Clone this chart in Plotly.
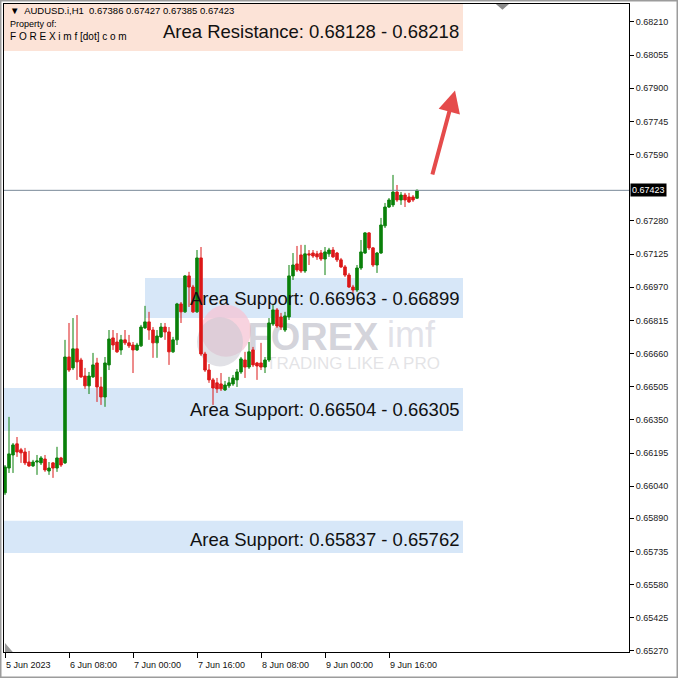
import plotly.graph_objects as go
import pandas as pd

# ---------------- data ----------------
symbol = "AUDUSD.i,H1"
times = pd.date_range("2023-06-05 16:00", periods=104, freq="h")

open_ = [0.66009, 0.66125, 0.66186, 0.66238, 0.66210, 0.66200, 0.66153, 0.66135, 0.66153, 0.66149,
         0.66167, 0.66111, 0.66149, 0.66125, 0.66172, 0.66149, 0.66644, 0.66593, 0.66682, 0.66630,
         0.66555, 0.66509, 0.66551, 0.66616, 0.66504, 0.66457, 0.66607, 0.66733, 0.66714, 0.66677,
         0.66724, 0.66710, 0.66700, 0.66677, 0.66696, 0.66780, 0.66808, 0.66770, 0.66710, 0.66738,
         0.66784, 0.66761, 0.66668, 0.66724, 0.66892, 0.66855, 0.67023, 0.66971, 0.66855, 0.67107,
         0.66658, 0.66583, 0.66537, 0.66523, 0.66518, 0.66490, 0.66509, 0.66518, 0.66537, 0.66574,
         0.66630, 0.66597, 0.66677, 0.66616, 0.66616, 0.66597, 0.66630, 0.66798, 0.66864, 0.66831,
         0.66770, 0.66831, 0.67023, 0.67079, 0.67121, 0.67046, 0.67126, 0.67130, 0.67126, 0.67130,
         0.67102, 0.67126, 0.67144, 0.67130, 0.67098, 0.67065, 0.67027, 0.66971, 0.66957, 0.67060,
         0.67130, 0.67224, 0.67154, 0.67074, 0.67130, 0.67257, 0.67345, 0.67355, 0.67415, 0.67378,
         0.67401, 0.67392, 0.67392, 0.67386]
high = [0.66139, 0.66364, 0.66242, 0.66270, 0.66219, 0.66219, 0.66205, 0.66163, 0.66186, 0.66181,
        0.66186, 0.66153, 0.66153, 0.66224, 0.66177, 0.66724, 0.66803, 0.66826, 0.66840, 0.66640,
        0.66593, 0.66574, 0.66663, 0.66640, 0.66551, 0.66644, 0.66770, 0.66770, 0.66756, 0.66747,
        0.66770, 0.66747, 0.66714, 0.66710, 0.66794, 0.66883, 0.66855, 0.66784, 0.66770, 0.66803,
        0.66803, 0.66784, 0.66738, 0.66897, 0.66901, 0.67027, 0.67042, 0.66981, 0.67144, 0.67158,
        0.66668, 0.66611, 0.66546, 0.66546, 0.66569, 0.66532, 0.66551, 0.66560, 0.66588, 0.66644,
        0.66668, 0.66714, 0.66691, 0.66621, 0.66710, 0.66644, 0.66826, 0.66887, 0.66873, 0.66850,
        0.66855, 0.67074, 0.67130, 0.67163, 0.67168, 0.67168, 0.67144, 0.67144, 0.67140, 0.67144,
        0.67158, 0.67154, 0.67158, 0.67135, 0.67107, 0.67074, 0.67037, 0.66981, 0.67074, 0.67191,
        0.67228, 0.67228, 0.67158, 0.67135, 0.67294, 0.67364, 0.67387, 0.67495, 0.67448, 0.67415,
        0.67411, 0.67411, 0.67401, 0.67427]
low = [0.65999, 0.66102, 0.66102, 0.66177, 0.66149, 0.66139, 0.66130, 0.66130, 0.66093, 0.66139,
       0.66107, 0.66093, 0.66079, 0.66107, 0.66130, 0.66144, 0.66574, 0.66583, 0.66537, 0.66546,
       0.66495, 0.66471, 0.66546, 0.66434, 0.66420, 0.66411, 0.66583, 0.66677, 0.66663, 0.66654,
       0.66700, 0.66686, 0.66569, 0.66672, 0.66691, 0.66775, 0.66724, 0.66640, 0.66640, 0.66733,
       0.66724, 0.66607, 0.66663, 0.66700, 0.66803, 0.66850, 0.66878, 0.66850, 0.66850, 0.66649,
       0.66574, 0.66523, 0.66420, 0.66476, 0.66485, 0.66485, 0.66499, 0.66509, 0.66504, 0.66565,
       0.66546, 0.66588, 0.66597, 0.66537, 0.66583, 0.66569, 0.66621, 0.66789, 0.66780, 0.66770,
       0.66761, 0.66817, 0.67004, 0.67042, 0.67037, 0.67037, 0.67074, 0.67107, 0.67098, 0.67093,
       0.67027, 0.67112, 0.67107, 0.67088, 0.67060, 0.67018, 0.66967, 0.66943, 0.66948, 0.67051,
       0.67126, 0.67144, 0.67065, 0.67037, 0.67126, 0.67247, 0.67341, 0.67345, 0.67369, 0.67355,
       0.67345, 0.67364, 0.67369, 0.67385]
close = [0.66130, 0.66191, 0.66233, 0.66200, 0.66196, 0.66149, 0.66135, 0.66153, 0.66158, 0.66172,
         0.66116, 0.66125, 0.66125, 0.66172, 0.66139, 0.66644, 0.66583, 0.66682, 0.66621, 0.66551,
         0.66509, 0.66555, 0.66607, 0.66504, 0.66457, 0.66616, 0.66728, 0.66700, 0.66668, 0.66724,
         0.66710, 0.66696, 0.66677, 0.66700, 0.66784, 0.66808, 0.66770, 0.66710, 0.66742, 0.66784,
         0.66761, 0.66668, 0.66724, 0.66892, 0.66855, 0.67023, 0.66971, 0.66855, 0.67107, 0.66658,
         0.66583, 0.66537, 0.66499, 0.66495, 0.66495, 0.66513, 0.66523, 0.66546, 0.66574, 0.66635,
         0.66597, 0.66668, 0.66607, 0.66602, 0.66597, 0.66630, 0.66803, 0.66864, 0.66789, 0.66784,
         0.66836, 0.67023, 0.67074, 0.67051, 0.67046, 0.67126, 0.67121, 0.67116, 0.67112, 0.67102,
         0.67135, 0.67144, 0.67112, 0.67098, 0.67065, 0.67027, 0.66971, 0.66957, 0.67060, 0.67135,
         0.67224, 0.67154, 0.67074, 0.67130, 0.67261, 0.67345, 0.67378, 0.67415, 0.67378, 0.67401,
         0.67378, 0.67369, 0.67378, 0.67423]

last_price = 0.67423
header_ohlc = ["0.67386", "0.67427", "0.67385", "0.67423"]

x_tick_bars = [0, 16, 32, 48, 64, 80, 96]
x_tick_labels = ["5 Jun 2023", "6 Jun 08:00", "7 Jun 00:00", "7 Jun 16:00",
                 "8 Jun 08:00", "9 Jun 00:00", "9 Jun 16:00"]

y_ticks = [0.68210, 0.68055, 0.67900, 0.67745, 0.67590, 0.67280, 0.67125, 0.66970,
           0.66815, 0.66660, 0.66505, 0.66350, 0.66195, 0.66040, 0.65890, 0.65735,
           0.65580, 0.65425, 0.65270]

zone_labels = ["Area Resistance: 0.68128 - 0.68218",
               "Area Support: 0.66963 - 0.66899",
               "Area Support: 0.66504 - 0.66305",
               "Area Support: 0.65837 - 0.65762"]
zone_top = [0.68294, 0.67013, 0.66499, 0.65878]
zone_bottom = [0.68074, 0.66826, 0.66298, 0.65728]
zone_kind = ["resistance", "support", "support", "support"]

# ---------------- figure ----------------
bars = list(range(len(times)))
Y_MIN, Y_MAX = 0.65265, 0.68294
X_MIN, X_MAX = -0.25, 156
ZONE_END = 114.5
zone_start = [X_MIN, 35, X_MIN, X_MIN]
zone_fill = {"resistance": "#fce3d7", "support": "#d7e7f8"}
label_shift = [-4, 0, 0, -3]

fig = go.Figure()

shapes = []
for k in range(len(zone_labels)):
    shapes.append(dict(type="rect", xref="x", yref="y", layer="below",
                       x0=zone_start[k], x1=ZONE_END, y0=zone_bottom[k], y1=zone_top[k],
                       fillcolor=zone_fill[zone_kind[k]], line=dict(width=0)))

# watermark logo (behind candles)
shapes.append(dict(type="circle", xref="x", yref="y", layer="below",
                   x0=49.0, x1=61.5, y0=0.66645, y1=0.66888,
                   fillcolor="rgba(246,196,212,0.75)", line=dict(width=0)))
shapes.append(dict(type="circle", xref="x", yref="y", layer="below",
                   x0=48.0, x1=59.5, y0=0.66600, y1=0.66830,
                   fillcolor="rgba(200,200,210,0.55)", line=dict(width=0)))
shapes.append(dict(type="rect", xref="x", yref="y", layer="below",
                   x0=60, x1=94, y0=0.66700, y1=0.66810,
                   fillcolor="rgba(0,0,0,0)", line=dict(width=0),
                   label=dict(text="FOREX", textposition="middle center",
                              font=dict(family="Liberation Sans", size=38, weight="bold",
                                        color="rgba(175,175,188,0.55)"))))
shapes.append(dict(type="rect", xref="x", yref="y", layer="below",
                   x0=93, x1=110, y0=0.66710, y1=0.66820,
                   fillcolor="rgba(0,0,0,0)", line=dict(width=0),
                   label=dict(text="imf", textposition="middle center",
                              font=dict(family="Liberation Sans", size=36,
                                        color="rgba(190,190,205,0.45)"))))
shapes.append(dict(type="rect", xref="x", yref="y", layer="below",
                   x0=64, x1=110, y0=0.66590, y1=0.66660,
                   fillcolor="rgba(0,0,0,0)", line=dict(width=0),
                   label=dict(text="TRADING LIKE A PRO", textposition="middle center",
                              font=dict(family="Liberation Sans", size=17,
                                        color="rgba(200,200,205,0.5)"))))

# bid line
shapes.append(dict(type="line", xref="paper", yref="y", x0=0, x1=1,
                   y0=last_price, y1=last_price, line=dict(color="#7a8a99", width=1)))
# small MT4 markers
shapes.append(dict(type="path", xref="paper", yref="paper",
                   path="M 0.7870 1.0 L 0.8080 1.0 L 0.7975 0.9910 Z",
                   fillcolor="#8a8a8a", line=dict(width=0)))
shapes.append(dict(type="path", xref="paper", yref="paper",
                   path="M 0.0016 0.0140 L 0.0016 0 L 0.0140 0 Z",
                   fillcolor="#9a9a9a", line=dict(width=0)))
# outer window frame
shapes.append(dict(type="rect", xref="paper", yref="paper",
                   x0=-0.0056, x1=1.0776, y0=-0.0394, y1=1.0054,
                   line=dict(color="#9c9c9c", width=2), fillcolor="rgba(0,0,0,0)"))

fig.add_trace(go.Candlestick(
    x=bars, open=open_, high=high, low=low, close=close,
    increasing=dict(line=dict(color="#0a800a", width=1), fillcolor="#0a800a"),
    decreasing=dict(line=dict(color="#dc1818", width=1), fillcolor="#dc1818"),
    whiskerwidth=0, hoverinfo="skip", showlegend=False))

annotations = []
for k in range(len(zone_labels)):
    annotations.append(dict(x=ZONE_END - 0.5, y=(zone_top[k] + zone_bottom[k]) / 2,
                            xref="x", yref="y", text=zone_labels[k], showarrow=False,
                            xanchor="right", yanchor="middle", yshift=label_shift[k],
                            font=dict(family="Liberation Sans", size=18.5, color="#111111")))

for b, lab in zip(x_tick_bars, x_tick_labels):
    annotations.append(dict(x=b, y=-0.0205, xref="x", yref="paper", text=lab,
                            showarrow=False, xanchor="left", yanchor="middle", xshift=-1,
                            font=dict(family="Liberation Sans", size=9, color="#111111")))

# header
annotations.append(dict(x=0.0064, y=0.9895, xref="paper", yref="paper",
                        text="▼  " + symbol + "  " + " ".join(header_ohlc),
                        showarrow=False, xanchor="left", yanchor="middle",
                        font=dict(family="Liberation Sans", size=9.5, color="#000000")))
annotations.append(dict(x=0.0064, y=0.9695, xref="paper", yref="paper",
                        text="Property of:", showarrow=False, xanchor="left", yanchor="middle",
                        font=dict(family="Liberation Sans", size=9, color="#000000")))
annotations.append(dict(x=0.0064, y=0.9495, xref="paper", yref="paper",
                        text="F O R E X i m f [dot] c o m", showarrow=False,
                        xanchor="left", yanchor="middle",
                        font=dict(family="Liberation Sans", size=10, color="#000000")))

# price label on axis
annotations.append(dict(x=1, y=last_price, xref="paper", yref="y", text="0.67423",
                        showarrow=False, xanchor="left", yanchor="middle", xshift=1,
                        bgcolor="#000000", borderpad=1,
                        font=dict(family="Liberation Sans", size=9, color="#ffffff")))

# red arrow
annotations.append(dict(x=112.5, y=0.67890, ax=106.75, ay=0.67490,
                        xref="x", yref="y", axref="x", ayref="y", text="",
                        showarrow=True, arrowhead=2, arrowsize=1.1, arrowwidth=4,
                        arrowcolor="#e54b4b"))

fig.update_layout(
    width=678, height=678,
    margin=dict(l=4, r=49, t=4, b=26),
    paper_bgcolor="#ffffff", plot_bgcolor="#ffffff",
    showlegend=False, boxgap=0.1,
    shapes=shapes, annotations=annotations,
    xaxis=dict(range=[X_MIN, X_MAX], showgrid=False, zeroline=False,
               tickvals=x_tick_bars, showticklabels=False, ticks="outside", ticklen=5,
               tickcolor="#000000", showline=True, mirror=True, linecolor="#000000",
               linewidth=1, rangeslider=dict(visible=False), fixedrange=True),
    yaxis=dict(range=[Y_MIN, Y_MAX], side="right", showgrid=False, zeroline=False,
               tickvals=y_ticks, ticktext=[f"{v:.5f}" for v in y_ticks],
               ticks="outside", ticklen=4, tickcolor="#000000",
               tickfont=dict(family="Liberation Sans", size=9, color="#222222"),
               showline=True, mirror=True, linecolor="#000000", linewidth=1,
               fixedrange=True),
)

fig.write_html("out.html", config={"displayModeBar": False},
               post_script="document.body.style.margin='0px';document.body.style.overflow='hidden';")
